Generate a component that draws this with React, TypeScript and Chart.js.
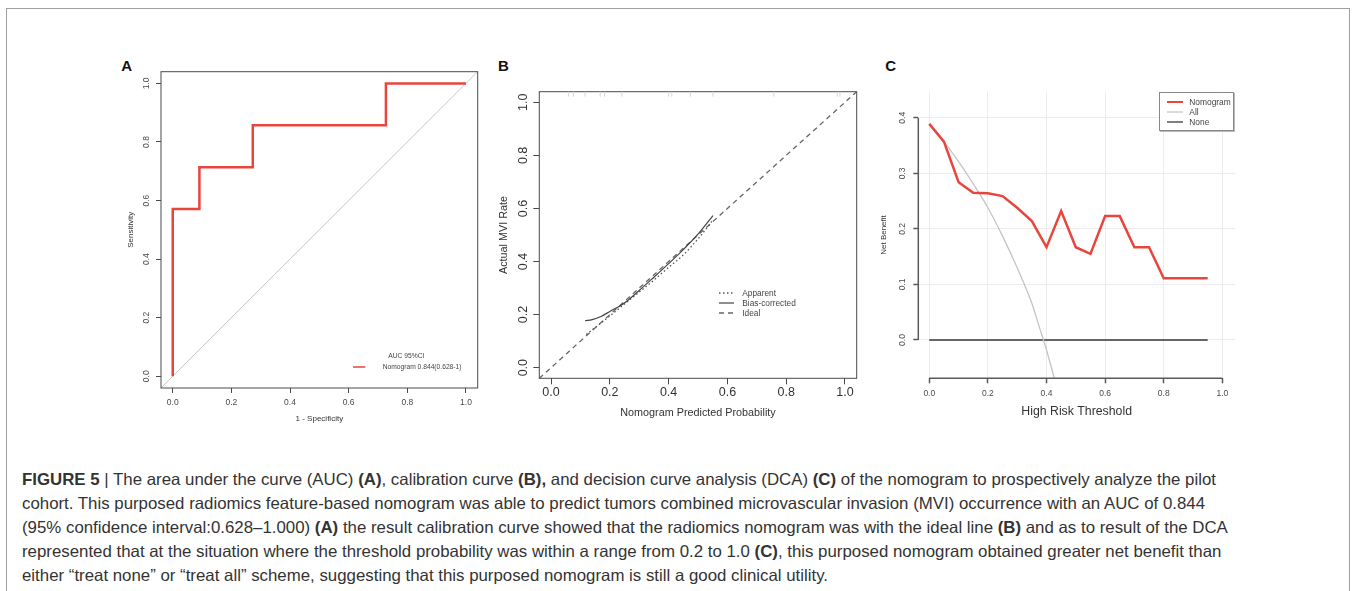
import React, { useEffect, useLayoutEffect, useRef, useState } from 'react';
import { Chart, registerables } from 'chart.js';
Chart.register(...registerables);

// ---------- Panel A: ROC ----------
const rocFpr = [0, 0, 0.091, 0.091, 0.273, 0.273, 0.727, 0.727, 1.0];
const rocTpr = [0, 0.571, 0.571, 0.714, 0.714, 0.857, 0.857, 1.0, 1.0];
const diagRef = [-0.04, 1.04];
const unitTicks = [0, 0.2, 0.4, 0.6, 0.8, 1.0];

// ---------- Panel B: calibration ----------
const apparentX = [0.12, 0.16, 0.2, 0.25, 0.3, 0.35, 0.4, 0.45, 0.5, 0.55];
const apparentY = [0.125, 0.16, 0.195, 0.24, 0.285, 0.33, 0.378, 0.425, 0.485, 0.555];
const biasX = [0.116, 0.14, 0.17, 0.2, 0.25, 0.3, 0.35, 0.4, 0.45, 0.5, 0.551];
const biasY = [0.177, 0.181, 0.193, 0.212, 0.244, 0.291, 0.341, 0.392, 0.445, 0.503, 0.573];
const idealRef = [-0.04, 1.04];
const rugX = [0.059, 0.076, 0.116, 0.167, 0.182, 0.241, 0.4, 0.411, 0.474, 0.551, 0.758, 0.974, 0.983];

// ---------- Panel C: DCA ----------
const thresholds = [0, 0.05, 0.1, 0.15, 0.2, 0.25, 0.3, 0.35, 0.4, 0.45, 0.5, 0.55, 0.6, 0.65, 0.7, 0.75, 0.8, 0.85, 0.9, 0.95];
const nomogramNB = [0.389, 0.357, 0.284, 0.265, 0.264, 0.259, 0.238, 0.214, 0.167, 0.232, 0.167, 0.155, 0.223, 0.223, 0.167, 0.167, 0.111, 0.111, 0.111, 0.111];
const allX = [0, 0.05, 0.1, 0.15, 0.2, 0.25, 0.3, 0.35, 0.375, 0.4, 0.427];
const allNB = [0.389, 0.357, 0.321, 0.281, 0.238, 0.187, 0.13, 0.066, 0.024, -0.018, -0.069];
const noneX = [0, 0.95];
const noneNB = [0, 0];
const netTicks = [0, 0.1, 0.2, 0.3, 0.4];

const RED = '#E8453C';
const FONT = "'Liberation Sans', Arial, Helvetica, sans-serif";

const pts = (xs: number[], ys: number[]) => xs.map((x, i) => ({ x, y: ys[i] }));
const fmt1 = (v: any) => Number(v).toFixed(1);

const boxPlugin = {
  id: 'rbox',
  afterDatasetsDraw(chart: any) {
    const { ctx, chartArea: a } = chart;
    ctx.save();
    ctx.strokeStyle = '#4a4a4a';
    ctx.lineWidth = 1;
    ctx.strokeRect(a.left, a.top, a.right - a.left, a.bottom - a.top);
    ctx.restore();
  },
};

const rugPlugin = {
  id: 'rug',
  afterDatasetsDraw(chart: any) {
    const { ctx, chartArea: a, scales } = chart;
    ctx.save();
    ctx.strokeStyle = '#d6d6d6';
    ctx.lineWidth = 1;
    rugX.forEach((v) => {
      const px = scales.x.getPixelForValue(v);
      ctx.beginPath();
      ctx.moveTo(px, a.top);
      ctx.lineTo(px, a.top + 5);
      ctx.stroke();
    });
    ctx.restore();
  },
};

const rAxisPlugin = {
  id: 'raxis',
  afterDatasetsDraw(chart: any) {
    const { ctx, chartArea: a, scales } = chart;
    ctx.save();
    ctx.strokeStyle = '#5a5a5a';
    ctx.lineWidth = 1.5;
    ctx.beginPath();
    ctx.moveTo(scales.x.getPixelForValue(unitTicks[0]), a.bottom);
    ctx.lineTo(scales.x.getPixelForValue(unitTicks[unitTicks.length - 1]), a.bottom);
    ctx.moveTo(a.left, scales.y.getPixelForValue(netTicks[0]));
    ctx.lineTo(a.left, scales.y.getPixelForValue(netTicks[netTicks.length - 1]));
    ctx.stroke();
    ctx.restore();
  },
};

function axisX(o: any) {
  return {
    type: 'linear',
    min: o.min,
    max: o.max,
    afterBuildTicks: (s: any) => { s.ticks = o.ticks.map((v: number) => ({ value: v })); },
    afterFit: (s: any) => { s.height = o.size; },
    ticks: { callback: fmt1, font: { family: FONT, size: o.tickSize }, color: o.tickColor, padding: o.tickPad, autoSkip: false, maxRotation: 0, minRotation: 0 },
    grid: { drawOnChartArea: !!o.gridColor, color: o.gridColor || 'rgba(0,0,0,0)', lineWidth: 1, drawTicks: true, tickLength: o.tl, tickColor: o.tickMarkColor, tickWidth: o.tw || 1 },
    border: { display: false },
    title: { display: true, text: o.title, font: { family: FONT, size: o.titleSize }, color: o.titleColor, padding: { top: 0, bottom: o.titlePad } },
  };
}
function axisY(o: any) {
  return {
    type: 'linear',
    min: o.min,
    max: o.max,
    afterBuildTicks: (s: any) => { s.ticks = o.ticks.map((v: number) => ({ value: v })); },
    afterFit: (s: any) => { s.width = o.size; },
    ticks: { callback: fmt1, font: { family: FONT, size: o.tickSize }, color: o.tickColor, padding: o.tickPad, autoSkip: false, minRotation: 90, maxRotation: 90, crossAlign: 'center' },
    grid: { drawOnChartArea: !!o.gridColor, color: o.gridColor || 'rgba(0,0,0,0)', lineWidth: 1, drawTicks: true, tickLength: o.tl, tickColor: o.tickMarkColor, tickWidth: o.tw || 1 },
    border: { display: false },
    title: { display: true, text: o.title, font: { family: FONT, size: o.titleSize }, color: o.titleColor, padding: { top: o.titlePad, bottom: 0 } },
  };
}

const baseOpts = (padTop: number, padRight: number) => ({
  animation: false,
  responsive: false,
  devicePixelRatio: 1,
  layout: { padding: { top: padTop, right: padRight, left: 0, bottom: 0 } },
  plugins: { legend: { display: false }, tooltip: { enabled: false } },
});

const configA = () => ({
  type: 'line',
  data: {
    datasets: [
      { data: pts(rocFpr, rocTpr), borderColor: RED, borderWidth: 2.5, pointRadius: 0, tension: 0, order: 0 },
      { data: pts(diagRef, diagRef), borderColor: '#c8c8c8', borderWidth: 1, pointRadius: 0, order: 1 },
    ],
  },
  options: {
    ...baseOpts(11.7, 12.3),
    scales: {
      x: axisX({ min: -0.04, max: 1.04, ticks: unitTicks, size: 42, tickSize: 8.5, tickColor: '#4a4a4a', tickPad: 4.9, tl: 5, tickMarkColor: '#4a4a4a', title: '1 - Specificity', titleSize: 8, titleColor: '#333', titlePad: 6.2 }),
      y: axisY({ min: -0.04, max: 1.04, ticks: unitTicks, size: 51, tickSize: 8.5, tickColor: '#4a4a4a', tickPad: 3.4, tl: 5, tickMarkColor: '#4a4a4a', title: 'Sensitivity', titleSize: 8, titleColor: '#333', titlePad: 15.9 }),
    },
  },
  plugins: [boxPlugin],
});

const configB = () => ({
  type: 'line',
  data: {
    datasets: [
      { data: pts(biasX, biasY), borderColor: '#444', borderWidth: 1.2, pointRadius: 0, tension: 0.4, cubicInterpolationMode: 'monotone', order: 0 },
      { data: pts(apparentX, apparentY), borderColor: '#555', borderWidth: 1.3, borderDash: [1.5, 2.5], pointRadius: 0, tension: 0.4, cubicInterpolationMode: 'monotone', order: 1 },
      { data: pts(idealRef, idealRef), borderColor: '#666', borderWidth: 1.3, borderDash: [5, 4], pointRadius: 0, order: 2 },
    ],
  },
  options: {
    ...baseOpts(31.7, 13.3),
    scales: {
      x: axisX({ min: -0.04, max: 1.04, ticks: unitTicks, size: 51.7, tickSize: 12.5, tickColor: '#333', tickPad: 0.5, tl: 6, tickMarkColor: '#4a4a4a', title: 'Nomogram Predicted Probability', titleSize: 10.8, titleColor: '#333', titlePad: 10.8 }),
      y: axisY({ min: -0.04, max: 1.04, ticks: unitTicks, size: 49.3, tickSize: 12.5, tickColor: '#333', tickPad: 1.3, tl: 6, tickMarkColor: '#4a4a4a', title: 'Actual MVI Rate', titleSize: 10.8, titleColor: '#333', titlePad: 7.5 }),
    },
  },
  plugins: [boxPlugin, rugPlugin],
});

const configC = () => ({
  type: 'line',
  data: {
    datasets: [
      { data: pts(thresholds, nomogramNB), borderColor: RED, borderWidth: 2.5, pointRadius: 0, tension: 0, order: 0 },
      { data: pts(allX, allNB), borderColor: '#c4c4c4', borderWidth: 1.3, pointRadius: 0, tension: 0.3, cubicInterpolationMode: 'monotone', order: 1 },
      { data: pts(noneX, noneNB), borderColor: '#666', borderWidth: 2, pointRadius: 0, order: 2 },
    ],
  },
  options: {
    ...baseOpts(31.7, 15),
    scales: {
      x: axisX({ min: -0.0375, max: 1.0433, ticks: unitTicks, size: 51.7, tickSize: 8.5, tickColor: '#4a4a4a', tickPad: 4.9, tl: 5, tw: 1.5, tickMarkColor: '#5a5a5a', gridColor: '#ececec', title: 'High Risk Threshold', titleSize: 12.3, titleColor: '#333', titlePad: 10.9 }),
      y: axisY({ min: -0.069, max: 0.447, ticks: netTicks, size: 48.3, tickSize: 8.5, tickColor: '#4a4a4a', tickPad: 4.7, tl: 5, tw: 1.5, tickMarkColor: '#5a5a5a', gridColor: '#ececec', title: 'Net Benefit', titleSize: 8, titleColor: '#333', titlePad: 8.5 }),
    },
  },
  plugins: [rAxisPlugin],
});

function ChartPanel({ left, top, width, height, make }: any) {
  const ref = useRef<HTMLCanvasElement>(null);
  useEffect(() => {
    const chart = new Chart(ref.current as HTMLCanvasElement, make());
    return () => chart.destroy();
  }, []);
  return <canvas ref={ref} width={width} height={height} style={{ position: 'absolute', left, top, width, height }} />;
}

function Txt({ x, y, size, children, bold, color, align }: any) {
  const tx = align === 'left' ? '0' : '-50%';
  return (
    <div style={{ position: 'absolute', left: x, top: y, transform: `translate(${tx}, -50%)`, fontFamily: FONT, fontSize: size, lineHeight: 1, whiteSpace: 'nowrap', fontWeight: bold ? 'bold' : 'normal', color: color || '#333' }}>
      {children}
    </div>
  );
}

function Swatch({ x1, x2, y, color, width, dash }: any) {
  return (
    <svg style={{ position: 'absolute', left: x1, top: y - 3, overflow: 'visible' }} width={x2 - x1} height={6}>
      <line x1={0} y1={3} x2={x2 - x1} y2={3} stroke={color} strokeWidth={width} strokeDasharray={dash || 'none'} />
    </svg>
  );
}

const captionLines: any[] = [
  <><b>FIGURE 5</b> <span style={{ fontWeight: 300 }}>|</span> The area under the curve (AUC) <b>(A)</b>, calibration curve <b>(B),</b> and decision curve analysis (DCA) <b>(C)</b> of the nomogram to prospectively analyze the pilot</>,
  <>cohort. This purposed radiomics feature-based nomogram was able to predict tumors combined microvascular invasion (MVI) occurrence with an AUC of 0.844</>,
  <>(95% confidence interval:0.628–1.000) <b>(A)</b> the result calibration curve showed that the radiomics nomogram was with the ideal line <b>(B)</b> and as to result of the DCA</>,
  <>represented that at the situation where the threshold probability was within a range from 0.2 to 1.0 <b>(C)</b>, this purposed nomogram obtained greater net benefit than</>,
  <>either “treat none” or “treat all” scheme, suggesting that this purposed nomogram is still a good clinical utility.</>,
];
const captionCenters = [479, 503, 527, 551, 575];

function Caption() {
  const ref = useRef<HTMLSpanElement>(null);
  const [scale, setScale] = useState(1);
  useLayoutEffect(() => {
    if (ref.current) {
      const w = ref.current.getBoundingClientRect().width;
      if (w > 0) setScale(1183 / w);
    }
  }, []);
  return (
    <div style={{ position: 'absolute', left: 22, top: 0, transform: `scaleX(${scale})`, transformOrigin: 'left top', fontFamily: FONT, fontSize: 16.5, color: '#333' }}>
      {captionLines.map((l, i) => (
        <div key={i} style={{ position: 'absolute', left: 0, top: captionCenters[i] - 12, height: 24, lineHeight: '24px', whiteSpace: 'nowrap' }}>
          <span ref={i === 1 ? ref : undefined}>{l}</span>
        </div>
      ))}
    </div>
  );
}

export default function App() {
  return (
    <div style={{ position: 'absolute', left: 0, top: 0, width: 1352, height: 591, overflow: 'hidden', background: '#fff' }}>
      <div style={{ position: 'absolute', left: 6, top: 8, width: 1344, height: 640, border: '1px solid #a0a0a0', boxSizing: 'border-box' }} />

      <Txt x={126.7} y={65} size={15} bold color="#111">A</Txt>
      <Txt x={503.3} y={65} size={15} bold color="#111">B</Txt>
      <Txt x={890.7} y={65} size={15} bold color="#111">C</Txt>

      <ChartPanel left={110} top={60} width={380} height={370} make={configA} />
      <ChartPanel left={490} top={60} width={380} height={370} make={configB} />
      <ChartPanel left={870} top={60} width={380} height={370} make={configC} />

      {/* Legend A */}
      <Txt x={388.3} y={356} size={6.7} align="left" color="#444">AUC 95%CI</Txt>
      <Swatch x1={352.7} x2={365} y={366.7} color={RED} width={1.5} />
      <Txt x={382.7} y={366.7} size={6.7} align="left" color="#444">Nomogram 0.844(0.628-1)</Txt>

      {/* Legend B */}
      <Swatch x1={719.3} x2={734.3} y={292.7} color="#555" width={1.3} dash="1.5 2.5" />
      <Swatch x1={719.3} x2={734.3} y={303} color="#444" width={1.2} />
      <Swatch x1={719.3} x2={734.3} y={313.3} color="#666" width={1.3} dash="5 4" />
      <Txt x={742.3} y={292.7} size={8.3} align="left" color="#444">Apparent</Txt>
      <Txt x={742.3} y={303} size={8.3} align="left" color="#444">Bias-corrected</Txt>
      <Txt x={742.3} y={313.3} size={8.3} align="left" color="#444">Ideal</Txt>

      {/* Legend C */}
      <div style={{ position: 'absolute', left: 1159.3, top: 91.7, width: 75, height: 39.3, border: '1px solid #888', boxShadow: '1px 1px 0 #bbb', background: '#fff', boxSizing: 'border-box' }} />
      <Swatch x1={1166.7} x2={1182.7} y={101.7} color={RED} width={2} />
      <Swatch x1={1166.7} x2={1182.7} y={111.7} color="#c4c4c4" width={1.2} />
      <Swatch x1={1166.7} x2={1182.7} y={121.7} color="#555" width={1.5} />
      <Txt x={1189.3} y={101.7} size={8.4} align="left" color="#444">Nomogram</Txt>
      <Txt x={1189.3} y={111.7} size={8.4} align="left" color="#444">All</Txt>
      <Txt x={1189.3} y={121.7} size={8.4} align="left" color="#444">None</Txt>

      <Caption />
    </div>
  );
}
